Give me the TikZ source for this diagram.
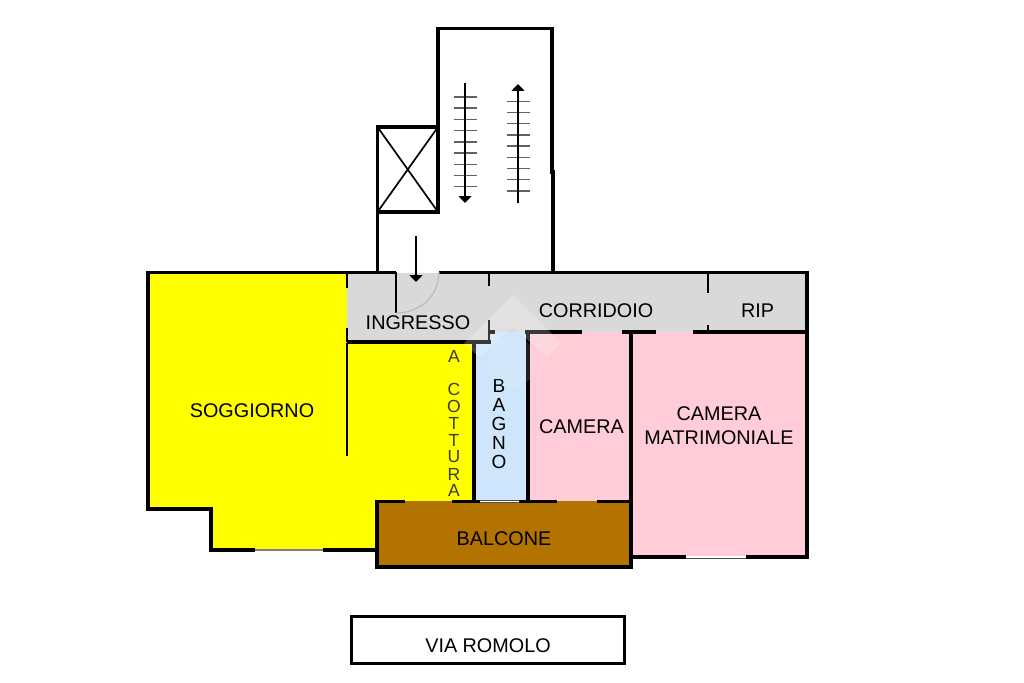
\documentclass[tikz,border=0pt]{standalone}
\usepackage{fontspec}
\setmainfont{Liberation Sans}
\usetikzlibrary{arrows.meta}
\definecolor{roomyellow}{HTML}{FFFF00}
\definecolor{roomgray}{HTML}{D9D9D9}
\definecolor{roompink}{HTML}{FFCCD7}
\definecolor{roomblue}{HTML}{CFE5FB}
\definecolor{roombrown}{HTML}{B27300}
\tikzset{
  wall/.style={draw=black,line width=3.2pt,line cap=butt,line join=miter},
  thinwall/.style={draw=black,line width=2.5pt,line cap=butt},
  flight/.style={draw=black,line width=1.6pt,-{Triangle[length=7pt,width=13pt]}},
  tread/.style={draw=black!62,line width=1.4pt},
  label/.style={font=\fontsize{19.8}{22}\selectfont,text=black,inner sep=0pt,align=center},
  stacked/.style={font=\fontsize{19}{19}\selectfont,text=black,inner sep=0pt},
  thinstacked/.style={font=\fontsize{17.5}{16}\selectfont,text=black!88!yellow,inner sep=0pt},
  windowpane/.style={line width=2.2pt},
}
\begin{document}
\begin{tikzpicture}[x=1pt,y=-1pt]
\useasboundingbox (0,0) rectangle (1024,682);
% room fills
\fill[roomyellow] (148,273) -- (347,273) -- (347,342) -- (474,342) -- (474,501) -- (377,501) -- (377,550) -- (211,550) -- (211,509) -- (148,509) -- cycle;
\fill[roomgray] (347,273) rectangle (807,332);
\fill[roomgray] (347,332) rectangle (489,342);
\fill[roomblue] (474,342) -- (489,342) -- (489,332) -- (528,332) -- (528,501) -- (474,501) -- cycle;
\fill[roompink] (528,332) rectangle (631,501);
\fill[roompink] (631,332) rectangle (807,557);
\fill[roombrown] (377,501) rectangle (631,567);
% upper stair block
\draw[wall] (377.5,272) -- (377.5,127) -- (438,127) -- (438,28.5) -- (552,28.5) -- (552,172) -- (553,172) -- (553,272);
\draw[wall] (377.5,127) rectangle (438,212);
\draw[black,line width=1.7pt] (377.5,127) -- (438,212) (438,127) -- (377.5,212);
% stair flights
\coordinate (downstart) at (465,83);
\coordinate (downend) at (465,203);
\coordinate (upstart) at (518,203);
\coordinate (upend) at (518,84);
\coordinate (doorstart) at (416,236);
\coordinate (doorend) at (416,282);
\foreach \n in {0,...,8} {
  \draw[tread] (454,97+11.2*\n) -- (477,97+11.2*\n);
  \draw[tread] (507,101.3+11.2*\n) -- (530,101.3+11.2*\n);
}
\draw[flight] (downstart) -- (downend);
\draw[flight] (upstart) -- (upend);
% outer walls
\draw[wall] (396,272.5) -- (148,272.5) -- (148,509) -- (211,509) -- (211,550) -- (255,550);
\draw[wall] (323,550) -- (377,550);
\draw[wall] (439,272.5) -- (807,272.5) -- (807,557) -- (746,557);
\draw[wall] (686,557) -- (631,557);
\draw[flight] (doorstart) -- (doorend);
% windows
\draw[windowpane,draw=black!50] (255,550) -- (323,550);
\draw[black!70,line width=3pt] (686,557) -- (746,557);
\draw[white,line width=1.2pt] (686,557) -- (746,557);
% door of the entrance
\draw[black,line width=2.2pt] (396,272) -- (396,313);
\draw[black!28,line width=1.1pt] (396,313) .. controls (420,313) and (439,296) .. (439,272);
% ingresso walls
\draw[thinwall] (347,272) -- (347,288);
\draw[thinwall] (347,328) -- (347,342);
\draw[wall] (347,342) -- (490.5,342);
\draw[thinwall] (489,272) -- (489,286);
\draw[thinwall] (489,320) -- (489,343.5);
\draw[thinwall] (347,343) -- (347,456);
% corridor bottom walls
\draw[wall] (489,332) -- (495,332);
\draw[wall] (525,332) -- (582,332);
\draw[wall] (622,332) -- (656,332);
\draw[wall] (693,332) -- (807,332);
\draw[thinwall] (708,272) -- (708,293);
\draw[thinwall] (708,325) -- (708,332);
% room walls
\draw[wall] (474,342) -- (474,501);
\draw[wall] (528,332) -- (528,501);
\draw[wall] (631,332) -- (631,501);
% balcony
\draw[wall,line width=3.4pt] (405,501.5) -- (377,501.5) -- (377,567) -- (631,567) -- (631,500);
\draw[wall] (452,501.5) -- (480,501.5);
\draw[wall] (519,501.5) -- (557,501.5);
\draw[wall] (597,501.5) -- (631,501.5);
\draw[black!70,line width=3pt] (480,501.5) -- (519,501.5);
\draw[white,line width=1pt] (480,501.5) -- (519,501.5);
% street box
\node[draw=black,line width=3pt,minimum width=273pt,minimum height=47pt,inner sep=0pt] (street) at (488,640) {};
% labels
\node[label] (soggiorno) at (252,410.5) {SOGGIORNO};
\node[label] (ingresso) at (418,322.5) {INGRESSO};
\node[label] (corridoio) at (596,310.5) {CORRIDOIO};
\node[label] (rip) at (757.5,310.5) {RIP};
\node[label] (camera) at (581.5,426.5) {CAMERA};
\node[label] (matrimoniale) at (719,425.5) {CAMERA\\[2pt]MATRIMONIALE};
\node[label] (balcone) at (504,538.5) {BALCONE};
\node[label] (romolo) at (488,645.5) {VIA ROMOLO};
\node[stacked] (b1) at (499,386) {B};
\node[stacked] (b2) at (499,405) {A};
\node[stacked] (b3) at (499,424) {G};
\node[stacked] (b4) at (499,443) {N};
\node[stacked] (b5) at (499,462) {O};
\node[thinstacked] (c0) at (454,356) {A};
\node[thinstacked] (c1) at (454,389) {C};
\node[thinstacked] (c2) at (454,406) {O};
\node[thinstacked] (c3) at (454,423) {T};
\node[thinstacked] (c4) at (454,440) {T};
\node[thinstacked] (c5) at (454,457) {U};
\node[thinstacked] (c6) at (454,474) {R};
\node[thinstacked] (c7) at (454,490) {A};
% faint watermark
\fill[white,opacity=0.22,even odd rule] (513,295) -- (561,343) -- (547,357) -- (513,327) -- (479,357) -- (464,343) -- cycle;
\fill[white,opacity=0.12] (512,362) circle[radius=25];
\end{tikzpicture}
\end{document}
